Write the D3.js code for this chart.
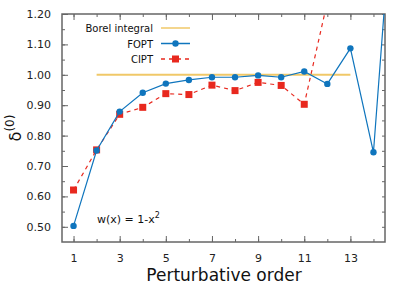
<!DOCTYPE html>
<html>
<head>
<meta charset="utf-8">
<script src="https://cdn.jsdelivr.net/npm/d3@7"></script>
<style>
body { margin: 0; background: #fff; }
text { font-family: "DejaVu Sans", sans-serif; }
</style>
</head>
<body>
<div id="chart"></div>
<script>
// data
var orders = [1, 2, 3, 4, 5, 6, 7, 8, 9, 10, 11, 12, 13, 14, 15];
var fopt = [0.503, 0.751, 0.879, 0.941, 0.971, 0.983, 0.992, 0.992, 0.998, 0.992, 1.011, 0.970, 1.087, 0.745, 1.75];
var ciptOrders = [1, 2, 3, 4, 5, 6, 7, 8, 9, 10, 11, 12];
var cipt = [0.621, 0.753, 0.870, 0.893, 0.938, 0.935, 0.966, 0.948, 0.975, 0.965, 0.903, 1.24];
var borelRange = [2, 13];
var borelValue = 1.0;
var xTickLabels = [1, 3, 5, 7, 9, 11, 13];
var yTickLabels = [0.5, 0.6, 0.7, 0.8, 0.9, 1.0, 1.1, 1.2];

var width = 407, height = 285;
var margin = {top: 14, right: 22, bottom: 43, left: 62};
var w = width - margin.left - margin.right,
    h = height - margin.top - margin.bottom;

var blue = "#0f75bd", red = "#e8281e", gold = "#f0c868", frame = "#666";

var svg = d3.select("#chart").append("svg")
  .attr("width", width)
  .attr("height", height);

var g = svg.append("g")
  .attr("transform", "translate(" + margin.left + "," + margin.top + ")");

var x = d3.scaleLinear().domain([0.5, 14.5]).range([0, w]);
var y = d3.scaleLinear().domain([0.45, 1.2]).range([h, 0]);

g.append("clipPath").attr("id", "clip")
  .append("rect").attr("width", w).attr("height", h);

// axes, ticks pointing inward
var xMinor = d3.range(1, 15);
var yMinor = d3.range(0.5, 1.2001, 0.05);

function styleAxis(sel) {
  sel.select(".domain").remove();
  sel.selectAll(".tick line").attr("stroke", frame);
  sel.selectAll(".tick text").attr("fill", "#222").style("font-size", "11px");
}

g.append("g").attr("transform", "translate(0," + h + ")")
  .call(d3.axisBottom(x).tickValues(xMinor).tickSize(-3).tickFormat(""))
  .call(styleAxis);
g.append("g").attr("transform", "translate(0," + h + ")")
  .call(d3.axisBottom(x).tickValues(xTickLabels).tickSize(-6).tickPadding(12).tickFormat(d3.format("d")))
  .call(styleAxis);
g.append("g")
  .call(d3.axisTop(x).tickValues(xMinor).tickSize(-3).tickFormat(""))
  .call(styleAxis);
g.append("g")
  .call(d3.axisTop(x).tickValues(xTickLabels).tickSize(-6).tickFormat(""))
  .call(styleAxis);

g.append("g")
  .call(d3.axisLeft(y).tickValues(yMinor).tickSize(-3).tickFormat(""))
  .call(styleAxis);
g.append("g")
  .call(d3.axisLeft(y).tickValues(yTickLabels).tickSize(-6).tickPadding(11).tickFormat(d3.format(".2f")))
  .call(styleAxis);
g.append("g").attr("transform", "translate(" + w + ",0)")
  .call(d3.axisRight(y).tickValues(yMinor).tickSize(-3).tickFormat(""))
  .call(styleAxis);

g.append("rect")
  .attr("width", w).attr("height", h)
  .attr("fill", "none").attr("stroke", frame).attr("stroke-width", 1.5);

var plot = g.append("g").attr("clip-path", "url(#clip)");

// Borel integral
plot.append("line")
  .attr("x1", x(borelRange[0])).attr("x2", x(borelRange[1]))
  .attr("y1", y(borelValue)).attr("y2", y(borelValue))
  .attr("stroke", gold).attr("stroke-width", 2);

var line = d3.line()
  .x(function(d) { return x(d[0]); })
  .y(function(d) { return y(d[1]); });

var ciptData = ciptOrders.map(function(o, i) { return [o, cipt[i]]; });
var foptData = orders.map(function(o, i) { return [o, fopt[i]]; });

plot.append("path").datum(ciptData)
  .attr("d", line).attr("fill", "none")
  .attr("stroke", red).attr("stroke-width", 1.2).attr("stroke-dasharray", "4,4");

plot.selectAll("rect.cipt").data(ciptData).enter().append("rect")
  .attr("class", "cipt")
  .attr("x", function(d) { return x(d[0]) - 3.5; })
  .attr("y", function(d) { return y(d[1]) - 3.5; })
  .attr("width", 7).attr("height", 7)
  .attr("fill", red);

plot.append("path").datum(foptData)
  .attr("d", line).attr("fill", "none")
  .attr("stroke", blue).attr("stroke-width", 1.2);

plot.selectAll("circle.fopt").data(foptData).enter().append("circle")
  .attr("class", "fopt")
  .attr("cx", function(d) { return x(d[0]); })
  .attr("cy", function(d) { return y(d[1]); })
  .attr("r", 3.2)
  .attr("fill", blue);

// legend
var legend = [
  {name: "Borel integral", color: gold, dash: null, mark: null},
  {name: "FOPT", color: blue, dash: null, mark: "circle"},
  {name: "CIPT", color: red, dash: "4,4", mark: "square"}
];
var lg = svg.append("g");
legend.forEach(function(d, i) {
  var yy = 28 + i * 15.5;
  lg.append("text").attr("x", 153).attr("y", yy + 4)
    .attr("text-anchor", "end").style("font-size", "10px").attr("fill", "#111")
    .text(d.name);
  lg.append("line").attr("x1", 161).attr("x2", 190).attr("y1", yy).attr("y2", yy)
    .attr("stroke", d.color).attr("stroke-width", 1.5)
    .attr("stroke-dasharray", d.dash);
  if (d.mark == "circle") {
    lg.append("circle").attr("cx", 175.5).attr("cy", yy).attr("r", 3.2).attr("fill", d.color);
  } else if (d.mark == "square") {
    lg.append("rect").attr("x", 172).attr("y", yy - 3.5).attr("width", 7).attr("height", 7).attr("fill", d.color);
  }
});

// annotation
var ann = svg.append("text").attr("x", 97).attr("y", 223)
  .style("font-size", "11px").attr("fill", "#111");
ann.append("tspan").text("w(x) = 1-x");
ann.append("tspan").attr("dy", -5).style("font-size", "8px").text("2");

// axis titles
svg.append("text")
  .attr("x", 224).attr("y", 281)
  .attr("text-anchor", "middle").style("font-size", "17px").attr("fill", "#111")
  .text("Perturbative order");

var yl = svg.append("text")
  .attr("transform", "translate(21," + (margin.top + h / 2) + ") rotate(-90)")
  .attr("text-anchor", "middle").style("font-size", "16px").attr("fill", "#111");
yl.append("tspan").text("δ");
yl.append("tspan").attr("dy", -7).style("font-size", "12px").text("(0)");
</script>
</body>
</html>
